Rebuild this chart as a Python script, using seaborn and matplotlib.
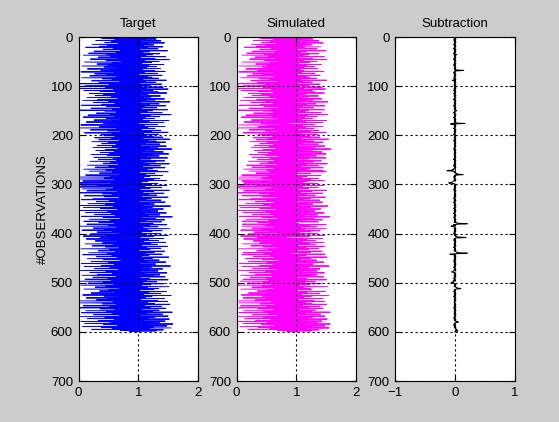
import numpy as np
import pandas as pd
import matplotlib
matplotlib.use("Agg")
import matplotlib.pyplot as plt
import seaborn as sns

target = [
    0.52, 1.21, 0.38, 1.30, 0.61, 1.12, 0.29, 1.38, 0.55, 1.05, 0.44, 1.44, 0.67, 1.17, 0.23, 1.26, 0.49, 1.09, 0.35, 1.41,
    0.12, 1.15, 0.58, 1.33, 0.41, 1.02, 0.70, 1.49, 0.26, 1.19, 0.63, 1.08, 0.17, 1.36, 0.47, 1.24, 0.08, 1.13, 0.54, 1.46,
    0.33, 1.04, 0.65, 1.28, 0.20, 1.52, 0.46, 1.11, 0.72, 1.35, 0.10, 1.22, 0.57, 1.06, 0.31, 1.43, 0.50, 1.18, 0.06, 1.31,
    0.43, 1.14, 0.68, 1.37, 0.15, 1.07, 0.53, 1.27, 0.37, 1.45, 0.04, 1.10, 0.60, 1.32, 0.27, 1.01, 0.48, 1.40, 0.19, 1.16,
    0.64, 1.23, 0.05, 1.34, 0.40, 1.08, 0.56, 1.47, 0.22, 1.12, 0.69, 1.29, 0.34, 1.03, 0.02, 1.39, 0.51, 1.20, 0.11, 1.06,
    0.03, 1.42, 0.45, 1.14, 0.01, 1.50, 0.59, 1.25, 0.09, 1.05, 0.36, 1.33, 0.62, 1.48, 0.18, 1.17, 0.42, 1.02, 0.28, 1.37,
    0.55, 1.21, 0.14, 1.09, 0.66, 1.44, 0.32, 1.28, 0.07, 1.13, 0.50, 1.53, 0.25, 1.04, 0.61, 1.35, 0.39, 1.19, 0.05, 1.46,
    0.47, 1.11, 0.70, 1.31, 0.21, 1.06, 0.57, 1.49, 0.02, 1.24, 0.44, 1.15, 0.63, 1.40, 0.30, 1.03, 0.53, 1.55, 0.16, 1.20,
    0.60, 1.36, 0.08, 1.12, 0.46, 1.27, 0.72, 1.07, 0.26, 1.51, 0.58, 1.18, 0.13, 1.43, 0.41, 1.01, 0.67, 1.32, 0.04, 1.10,
    0.52, 1.45, 0.35, 1.16, 0.01, 1.28, 0.64, 1.05, 0.20, 1.38, 0.49, 1.22, 0.71, 1.50, 0.10, 1.09, 0.56, 1.34, 0.38, 1.14,
    0.43, 1.25, 0.61, 1.41, 0.27, 1.08, 0.55, 1.53, 0.34, 1.17, 0.68, 1.30, 0.22, 1.46, 0.50, 1.12, 0.39, 1.36, 0.63, 1.04,
    0.31, 1.47, 0.57, 1.19, 0.24, 1.33, 0.66, 1.56, 0.45, 1.10, 0.29, 1.27, 0.60, 1.42, 0.36, 1.06, 0.52, 1.51, 0.21, 1.23,
    0.48, 1.35, 0.70, 1.14, 0.26, 1.49, 0.58, 1.21, 0.33, 1.03, 0.64, 1.44, 0.19, 1.29, 0.54, 1.11, 0.41, 1.52, 0.67, 1.18,
    0.15, 1.37, 0.51, 1.07, 0.28, 1.45, 0.62, 1.24, 0.09, 1.15, 0.46, 1.32, 0.18, 1.50, 0.57, 1.02, 0.35, 1.28, 0.69, 1.13,
    0.12, 1.41, 0.53, 1.19, 0.03, 1.09, 0.44, 1.36, 0.01, 1.26, 0.60, 1.47, 0.07, 1.16, 0.38, 1.05, 0.02, 1.33, 0.55, 1.22,
    0.04, 1.48, 0.32, 1.11, 0.01, 1.39, 0.59, 1.20, 0.06, 1.03, 0.47, 1.52, 0.14, 1.26, 0.65, 1.08, 0.02, 1.43, 0.40, 1.17,
    0.56, 1.31, 0.10, 1.06, 0.43, 1.50, 0.68, 1.22, 0.24, 1.13, 0.05, 1.38, 0.52, 1.01, 0.30, 1.45, 0.61, 1.18, 0.16, 1.27,
    0.45, 1.09, 0.03, 1.54, 0.58, 1.24, 0.08, 1.14, 0.37, 1.42, 0.66, 1.04, 0.02, 1.33, 0.49, 1.20, 0.12, 1.47, 0.55, 1.10,
    0.27, 1.36, 0.62, 1.16, 0.05, 1.57, 0.41, 1.07, 0.70, 1.29, 0.18, 1.44, 0.53, 1.12, 0.09, 1.39, 0.34, 1.02, 0.60, 1.25,
    0.14, 1.48, 0.50, 1.19, 0.03, 1.33, 0.64, 1.08, 0.25, 1.53, 0.44, 1.15, 0.06, 1.40, 0.57, 1.23, 0.31, 1.05, 0.68, 1.37,
    0.20, 1.11, 0.47, 1.50, 0.08, 1.26, 0.61, 1.03, 0.36, 1.43, 0.13, 1.17, 0.54, 1.34, 0.28, 1.09, 0.66, 1.46, 0.40, 1.21,
    0.11, 1.32, 0.58, 1.06, 0.23, 1.49, 0.45, 1.14, 0.69, 1.38, 0.04, 1.20, 0.52, 1.01, 0.33, 1.44, 0.62, 1.27, 0.17, 1.12,
    0.48, 1.40, 0.07, 1.18, 0.56, 1.05, 0.30, 1.51, 0.65, 1.24, 0.15, 1.09, 0.42, 1.35, 0.71, 1.16, 0.21, 1.46, 0.50, 1.02,
    0.05, 1.29, 0.60, 1.13, 0.38, 1.54, 0.10, 1.22, 0.53, 1.07, 0.27, 1.41, 0.67, 1.17, 0.02, 1.33, 0.46, 1.04, 0.19, 1.48,
    0.57, 1.10, 0.32, 1.36, 0.06, 1.25, 0.63, 1.45, 0.24, 1.03, 0.49, 1.19, 0.11, 1.50, 0.55, 1.14, 0.03, 1.31, 0.41, 1.08,
    0.16, 1.43, 0.59, 1.21, 0.04, 1.06, 0.45, 1.52, 0.28, 1.15, 0.68, 1.34, 0.09, 1.26, 0.51, 1.02, 0.35, 1.47, 0.62, 1.18,
    0.21, 1.38, 0.54, 1.09, 0.07, 1.55, 0.43, 1.23, 0.66, 1.12, 0.13, 1.44, 0.49, 1.04, 0.30, 1.32, 0.01, 1.49, 0.58, 1.16,
    0.03, 1.27, 0.40, 1.53, 0.64, 1.11, 0.08, 1.39, 0.52, 1.20, 0.02, 1.46, 0.36, 1.06, 0.61, 1.35, 0.12, 1.24, 0.47, 1.57,
    0.05, 1.14, 0.56, 1.41, 0.25, 1.03, 0.69, 1.50, 0.01, 1.28, 0.44, 1.17, 0.15, 1.52, 0.60, 1.08, 0.33, 1.45, 0.04, 1.22,
    0.53, 1.36, 0.10, 1.58, 0.42, 1.13, 0.65, 1.48, 0.07, 1.25, 0.38, 1.55, 0.57, 1.19, 0.22, 1.42, 0.70, 1.30, 0.85, 1.02,
]

# target minus simulated, same observations
subtraction = [
    0, .01, -.01, .02, 0, -.02, .01, 0, -.01, .01, .02, -.01, 0, .01, -.02, 0, .01, -.01, .02, 0,
    -.01, .01, 0, -.02, .02, 0, .01, -.01, 0, .02, -.01, .01, 0, -.02, .01, .03, -.01, 0, .01, -.01,
    .02, 0, -.01, .01, -.02, .01, 0, -.01, .02, 0, .01, -.01, 0, .02, -.01, .01, -.02, 0, .01, 0,
    -.01, .02, 0, .01, -.01, 0, .03, .15, .02, -.01, 0, .01, -.02, .01, 0, -.01, .02, 0, .01, -.01,
    0, .01, -.02, 0, .02, -.01, .01, -.04, -.02, .01, 0, .02, -.01, 0, .01, -.01, .02, 0, -.01, .01,
    .01, -.01, 0, .02, -.01, .01, 0, -.02, .01, 0, -.01, .02, 0, .01, -.02, .01, 0, -.01, .02, 0,
    -.01, .01, .02, 0, -.01, .01, -.02, 0, .01, -.01, .02, 0, .01, -.01, 0, .02, -.01, .01, 0, -.02,
    .01, 0, -.01, .02, 0, .01, -.01, .02, .01, .03, -.01, 0, .01, -.02, .01, 0, -.01, .02, 0, .01,
    -.01, .01, 0, -.02, .01, 0, .02, -.01, .01, 0, -.01, .02, 0, -.01, .01, .17, -.07, .01, 0, -.01,
    .02, 0, -.01, .01, 0, -.02, .01, .02, -.01, 0, .01, -.01, .02, 0, -.01, .01, 0, -.02, .01, 0,
    -.01, .02, 0, .01, -.01, 0, .02, -.01, .01, 0, -.02, .01, 0, .01, -.01, .02, 0, -.01, .01, 0,
    .01, -.01, .02, 0, -.01, .01, 0, -.02, .01, .02, -.01, 0, .01, -.01, 0, .02, -.01, .01, 0, -.01,
    0, .01, -.01, .02, 0, -.01, .01, 0, -.02, .01, 0, .02, -.01, 0, .01, -.01, .02, 0, -.01, .01,
    -.02, 0, .01, -.01, .02, 0, -.01, .01, -.03, -.02, -.05, -.13, -.03, 0, .01, -.01, .02, .04, .02, .14,
    .03, 0, -.01, .01, -.02, 0, .01, -.01, 0, .02, -.01, 0, -.02, -.03, -.04, -.06, -.10, -.03, 0, .01,
    -.01, .02, 0, .01, -.01, .02, 0, -.01, .01, 0, -.02, .01, .02, 0, -.01, .01, 0, -.01, .02, 0,
    .01, -.01, 0, .02, -.01, .01, 0, -.02, .01, 0, .01, -.01, .02, 0, -.01, .01, -.02, 0, .01, -.01,
    0, .02, -.01, .01, 0, -.01, .02, 0, -.02, .01, 0, .01, -.01, .02, 0, -.01, .01, 0, -.02, .01,
    .01, 0, -.01, .02, 0, .01, -.02, 0, .01, -.01, .02, 0, -.01, .01, 0, .02, -.01, .03, .05, .21,
    .04, -.02, .01, -.03, -.06, -.02, .01, 0, -.01, .02, 0, .01, -.01, 0, .02, -.01, .01, 0, -.02, .01,
    0, .01, -.01, .02, .01, .03, .06, .19, .02, -.01, .01, 0, -.02, .01, 0, -.01, .02, 0, .01, -.01,
    .01, -.01, 0, .02, -.01, .01, 0, -.02, .01, 0, .01, -.01, 0, .02, -.01, .01, .02, .03, .06, .21,
    .02, -.08, -.02, .01, 0, -.01, .02, 0, .01, -.01, 0, .02, -.01, .01, 0, -.02, .01, 0, -.01, .02,
    0, .01, -.01, .02, 0, -.01, .01, 0, -.02, .01, 0, .01, -.01, .02, 0, -.02, -.03, -.05, -.02, .01,
    -.01, .02, 0, .01, -.01, 0, .02, -.01, .01, 0, -.02, .01, 0, -.01, .01, -.02, -.03, -.01, -.04, -.06,
    -.02, .01, 0, -.01, .02, 0, .01, -.01, .02, .03, .05, .10, .02, 0, -.01, .01, 0, -.02, .01, 0,
    .01, -.01, .02, 0, -.01, .01, 0, -.02, .01, 0, .02, -.01, .01, 0, -.01, .02, 0, .01, -.01, 0,
    -.01, .01, 0, .02, -.01, 0, .01, -.01, .02, 0, -.02, .01, 0, .01, -.01, .02, 0, -.01, .01, 0,
    .01, -.01, .02, 0, -.01, .01, 0, .02, -.01, .01, 0, -.02, .01, 0, .02, -.01, .01, .02, .03, .06,
    .02, 0, -.01, .01, 0, -.02, .01, 0, .01, -.01, .02, 0, .01, .02, .03, .04, .02, .05, .01, 0,
]

titles = ['Target', 'Simulated', 'Subtraction']
y_ticks = [0, 100, 200, 300, 400, 500, 600, 700]

obs = np.arange(1, len(target) + 1)
simulated = list(np.array(target) - np.array(subtraction))

df = pd.DataFrame({'obs': obs, 'Target': target, 'Simulated': simulated, 'Subtraction': subtraction})

plt.rcParams['font.family'] = ['Liberation Sans', 'DejaVu Sans']
plt.rcParams['font.size'] = 9.5

fig = plt.figure(figsize=(5.59, 4.22), dpi=100, facecolor='#cccccc')

lefts = [78.5 / 559, 236.5 / 559, 395 / 559]
colors = ['#0000ff', '#ff00ff', 'black']
widths = [0.65, 0.65, 0.75]
xlims = [(0, 2), (0, 2), (-1, 1)]
xticks = [[0, 1, 2], [0, 1, 2], [-1, 0, 1]]

for i, name in enumerate(titles):
    ax = fig.add_axes([lefts[i], 41 / 422, 119.5 / 559, 344 / 422])
    ax.set_facecolor('white')
    sns.lineplot(data=df, x=name, y='obs', sort=False, estimator=None,
                 color=colors[i], lw=widths[i], ax=ax)
    ax.set_xlim(*xlims[i])
    ax.set_ylim(700, 0)
    ax.set_xticks(xticks[i])
    ax.set_yticks(y_ticks)
    ax.grid(True, color='black', linestyle=(0, (2, 2.5)), lw=0.8)
    ax.set_axisbelow(False)
    ax.tick_params(direction='in', length=4, pad=4, top=True, right=True, colors='black')
    for sp in ax.spines.values():
        sp.set_linewidth(0.8)
    ax.set_title(name, fontsize=9.5, pad=7)
    ax.set_xlabel('')
    ax.set_ylabel('')

fig.axes[0].set_ylabel('#OBSERVATIONS', fontsize=9.5, labelpad=1)

fig.savefig('out.png', dpi=100, facecolor=fig.get_facecolor())
